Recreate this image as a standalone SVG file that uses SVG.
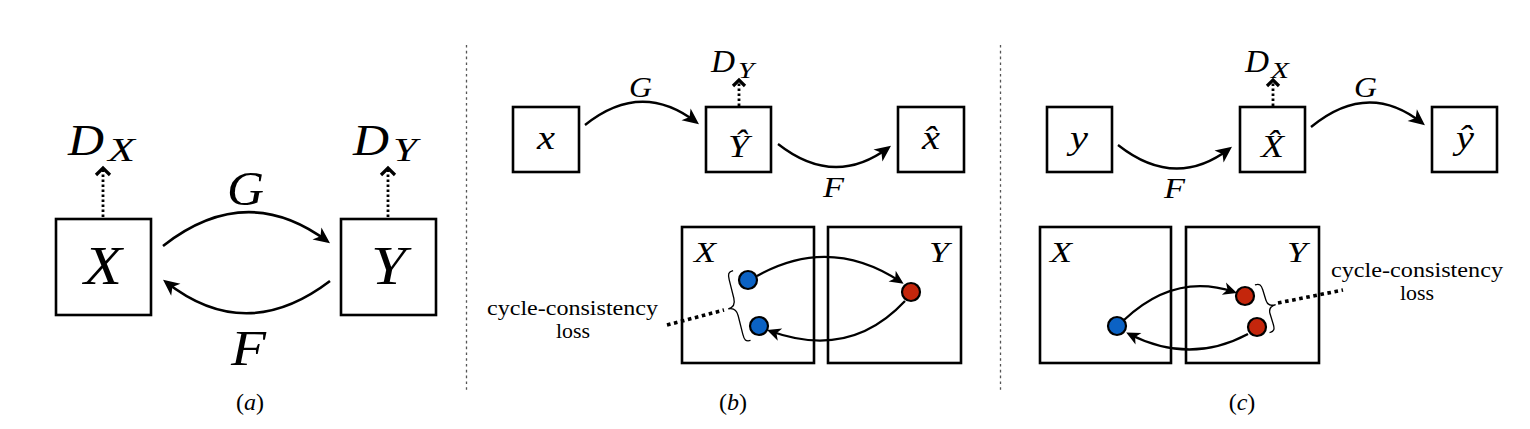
<svg xmlns="http://www.w3.org/2000/svg" width="1530" height="429" viewBox="0 0 1530 429">
<style>
.box{fill:#fff;stroke:#000;stroke-width:2.6}
.m{font-family:"Liberation Serif","DejaVu Serif",serif;font-style:italic;fill:#000}
.r{font-family:"Liberation Serif","DejaVu Serif",serif;fill:#000}
.c{text-anchor:middle}
.arr{fill:none;stroke:#000;stroke-width:2.6}
.arr2{fill:none;stroke:#000;stroke-width:2.3}
.dot{fill:none;stroke:#000;stroke-width:2.8;stroke-dasharray:2.6 2.4}
.chev{fill:none;stroke:#000;stroke-width:3.2}
.thick{fill:none;stroke:#000;stroke-width:3.6;stroke-dasharray:3.6 3.6}
.div{fill:none;stroke:#555;stroke-width:1.3;stroke-dasharray:2.6 3.2}
.brace{fill:none;stroke:#000;stroke-width:1.3}
.blue{fill:#0b62c4;stroke:#000;stroke-width:2.2}
.red{fill:#c4260c;stroke:#000;stroke-width:2.2}
</style>
<defs>
<marker id="ah" markerUnits="userSpaceOnUse" markerWidth="20" markerHeight="20" refX="0" refY="0" viewBox="-12 -8 16 16" orient="auto" overflow="visible">
<path d="M3,0 L-10,-6 L-6.5,0 L-10,6 Z" fill="#000"/>
</marker>
<marker id="ahs" markerUnits="userSpaceOnUse" markerWidth="20" markerHeight="20" refX="0" refY="0" viewBox="-12 -8 16 16" orient="auto" overflow="visible">
<path d="M2.5,0 L-8.5,-5.2 L-5.5,0 L-8.5,5.2 Z" fill="#000"/>
</marker>
</defs>

<g id="dividers">
<line class="div" x1="466.5" y1="45" x2="466.5" y2="392"/>
<line class="div" x1="1000.5" y1="45" x2="1000.5" y2="392"/>
</g>

<!-- Panel (a) -->
<g id="a-X"><rect class="box" x="56" y="219" width="95" height="96"/><text class="m" x="84" y="284" font-size="54" textLength="38" lengthAdjust="spacingAndGlyphs">X</text></g>
<g id="a-Y"><rect class="box" x="341" y="219" width="95" height="96"/><text class="m" x="371" y="284" font-size="54" textLength="35" lengthAdjust="spacingAndGlyphs">Y</text></g>
<g id="a-DX"><text class="m" x="68" y="155" font-size="44" textLength="36" lengthAdjust="spacingAndGlyphs">D</text><text class="m" x="108" y="161" font-size="34" textLength="27" lengthAdjust="spacingAndGlyphs">X</text></g>
<g id="a-DY"><text class="m" x="353" y="155" font-size="44" textLength="36" lengthAdjust="spacingAndGlyphs">D</text><text class="m" x="393" y="161" font-size="34" textLength="24" lengthAdjust="spacingAndGlyphs">Y</text></g>
<text class="m" x="227" y="205" font-size="48" textLength="37" lengthAdjust="spacingAndGlyphs">G</text>
<text class="m" x="231" y="365" font-size="50" textLength="35" lengthAdjust="spacingAndGlyphs">F</text>
<text class="c" x="250" y="410" font-size="24"><tspan class="r">(</tspan><tspan class="m">a</tspan><tspan class="r">)</tspan></text>

<!-- Panel (b) -->
<g id="b-x"><rect class="box" x="513" y="107" width="66" height="65"/><text class="m" x="537" y="149" font-size="33" textLength="18" lengthAdjust="spacingAndGlyphs">x</text></g>
<g id="b-Yhat"><rect class="box" x="706" y="107" width="65" height="65"/><text class="m" x="728" y="157" font-size="32" textLength="21" lengthAdjust="spacingAndGlyphs">Ŷ</text></g>
<g id="b-xhat"><rect class="box" x="898" y="107" width="66" height="65"/><text class="m" x="922" y="149" font-size="33" textLength="18" lengthAdjust="spacingAndGlyphs">x̂</text></g>
<g id="b-DY"><text class="m" x="711" y="72" font-size="31" textLength="24" lengthAdjust="spacingAndGlyphs">D</text><text class="m" x="738" y="78" font-size="23" textLength="16" lengthAdjust="spacingAndGlyphs">Y</text></g>
<text class="m" x="629" y="97" font-size="29" textLength="23" lengthAdjust="spacingAndGlyphs">G</text>
<text class="m" x="823" y="197" font-size="29" textLength="21" lengthAdjust="spacingAndGlyphs">F</text>
<g id="b-Xset"><rect class="box" x="682" y="227" width="132" height="136"/><text class="m" x="694" y="262" font-size="30" textLength="22" lengthAdjust="spacingAndGlyphs">X</text></g>
<g id="b-Yset"><rect class="box" x="828" y="227" width="133" height="136"/><text class="m" x="929" y="262" font-size="30" textLength="20" lengthAdjust="spacingAndGlyphs">Y</text></g>
<g id="b-loss"><text class="r" x="487" y="315" font-size="20" textLength="171" lengthAdjust="spacingAndGlyphs">cycle-consistency</text><text class="r" x="556" y="338" font-size="20" textLength="34" lengthAdjust="spacingAndGlyphs">loss</text></g>
<text class="c" x="733" y="410" font-size="24"><tspan class="r">(</tspan><tspan class="m">b</tspan><tspan class="r">)</tspan></text>

<!-- Panel (c) -->
<g id="c-y"><rect class="box" x="1047" y="107" width="65" height="65"/><text class="m" x="1070" y="149" font-size="33" textLength="18" lengthAdjust="spacingAndGlyphs">y</text></g>
<g id="c-Xhat"><rect class="box" x="1240" y="107" width="65" height="65"/><text class="m" x="1261" y="157" font-size="32" textLength="23" lengthAdjust="spacingAndGlyphs">X̂</text></g>
<g id="c-yhat"><rect class="box" x="1432" y="107" width="65" height="65"/><text class="m" x="1456" y="149" font-size="33" textLength="18" lengthAdjust="spacingAndGlyphs">ŷ</text></g>
<g id="c-DX"><text class="m" x="1245" y="72" font-size="31" textLength="24" lengthAdjust="spacingAndGlyphs">D</text><text class="m" x="1271" y="78" font-size="23" textLength="18" lengthAdjust="spacingAndGlyphs">X</text></g>
<text class="m" x="1164" y="198" font-size="29" textLength="21" lengthAdjust="spacingAndGlyphs">F</text>
<text class="m" x="1354" y="97" font-size="29" textLength="23" lengthAdjust="spacingAndGlyphs">G</text>
<g id="c-Xset"><rect class="box" x="1040" y="227" width="131" height="136"/><text class="m" x="1050" y="262" font-size="30" textLength="22" lengthAdjust="spacingAndGlyphs">X</text></g>
<g id="c-Yset"><rect class="box" x="1186" y="227" width="133" height="136"/><text class="m" x="1287" y="262" font-size="30" textLength="20" lengthAdjust="spacingAndGlyphs">Y</text></g>
<g id="c-loss"><text class="r" x="1331" y="277" font-size="20" textLength="172" lengthAdjust="spacingAndGlyphs">cycle-consistency</text><text class="r" x="1400" y="300" font-size="20" textLength="34" lengthAdjust="spacingAndGlyphs">loss</text></g>
<text class="c" x="1242" y="410" font-size="24"><tspan class="r">(</tspan><tspan class="m">c</tspan><tspan class="r">)</tspan></text>

<g id="connectors">
<!-- (a) -->
<path class="arr" d="M163,246 Q246,181 327,241" marker-end="url(#ah)"/>
<path class="arr" d="M330,281 Q246,345 166,282" marker-end="url(#ah)"/>
<line class="dot" x1="103" y1="217" x2="103" y2="170"/>
<path class="chev" d="M96,175 L103,168 L110,175"/>
<line class="dot" x1="388" y1="217" x2="388" y2="170"/>
<path class="chev" d="M381,175 L388,168 L395,175"/>
<!-- (b) -->
<path class="arr2" d="M585,125 Q641,80 696,122" marker-end="url(#ah)"/>
<path class="arr2" d="M778,144 Q834,188 888,148" marker-end="url(#ah)"/>
<line class="dot" x1="739" y1="106" x2="739" y2="81"/>
<path class="chev" d="M733,86 L739,80 L745,86"/>
<path class="arr2" d="M757,276 Q830,235 901,282" marker-end="url(#ahs)"/>
<path class="arr2" d="M905,301 Q850,360 770,331" marker-end="url(#ahs)"/>
<line class="thick" x1="667" y1="325" x2="724" y2="310"/>
<path class="brace" transform="translate(736,307) rotate(-14)" d="M6,-36 C1,-36 0,-34 0,-28 L0,-9 C0,-3 -3,0 -8,0 C-3,0 0,3 0,9 L0,28 C0,34 1,36 6,36"/>
<!-- (c) -->
<path class="arr2" d="M1118,145 Q1175,190 1229,149" marker-end="url(#ah)"/>
<path class="arr2" d="M1311,127 Q1368,80 1422,123" marker-end="url(#ah)"/>
<line class="dot" x1="1273" y1="106" x2="1273" y2="81"/>
<path class="chev" d="M1267,86 L1273,80 L1279,86"/>
<path class="arr2" d="M1124,320 Q1175,272 1234,292" marker-end="url(#ahs)"/>
<path class="arr2" d="M1248,334 Q1190,365 1129,334" marker-end="url(#ahs)"/>
<line class="thick" x1="1278" y1="303" x2="1343" y2="290"/>
<path class="brace" transform="translate(1268,307) rotate(-17)" d="M-6,-25 C-1,-25 0,-23 0,-18 L0,-7 C0,-2 3,0 8,0 C3,0 0,2 0,7 L0,18 C0,23 -1,25 -6,25"/>
</g>

<g id="points">
<circle class="blue" cx="748" cy="280" r="9"/>
<circle class="blue" cx="759" cy="326" r="9"/>
<circle class="red" cx="911" cy="292" r="9"/>
<circle class="blue" cx="1117" cy="326" r="9"/>
<circle class="red" cx="1245" cy="296" r="9"/>
<circle class="red" cx="1257" cy="327" r="9"/>
</g>
</svg>
